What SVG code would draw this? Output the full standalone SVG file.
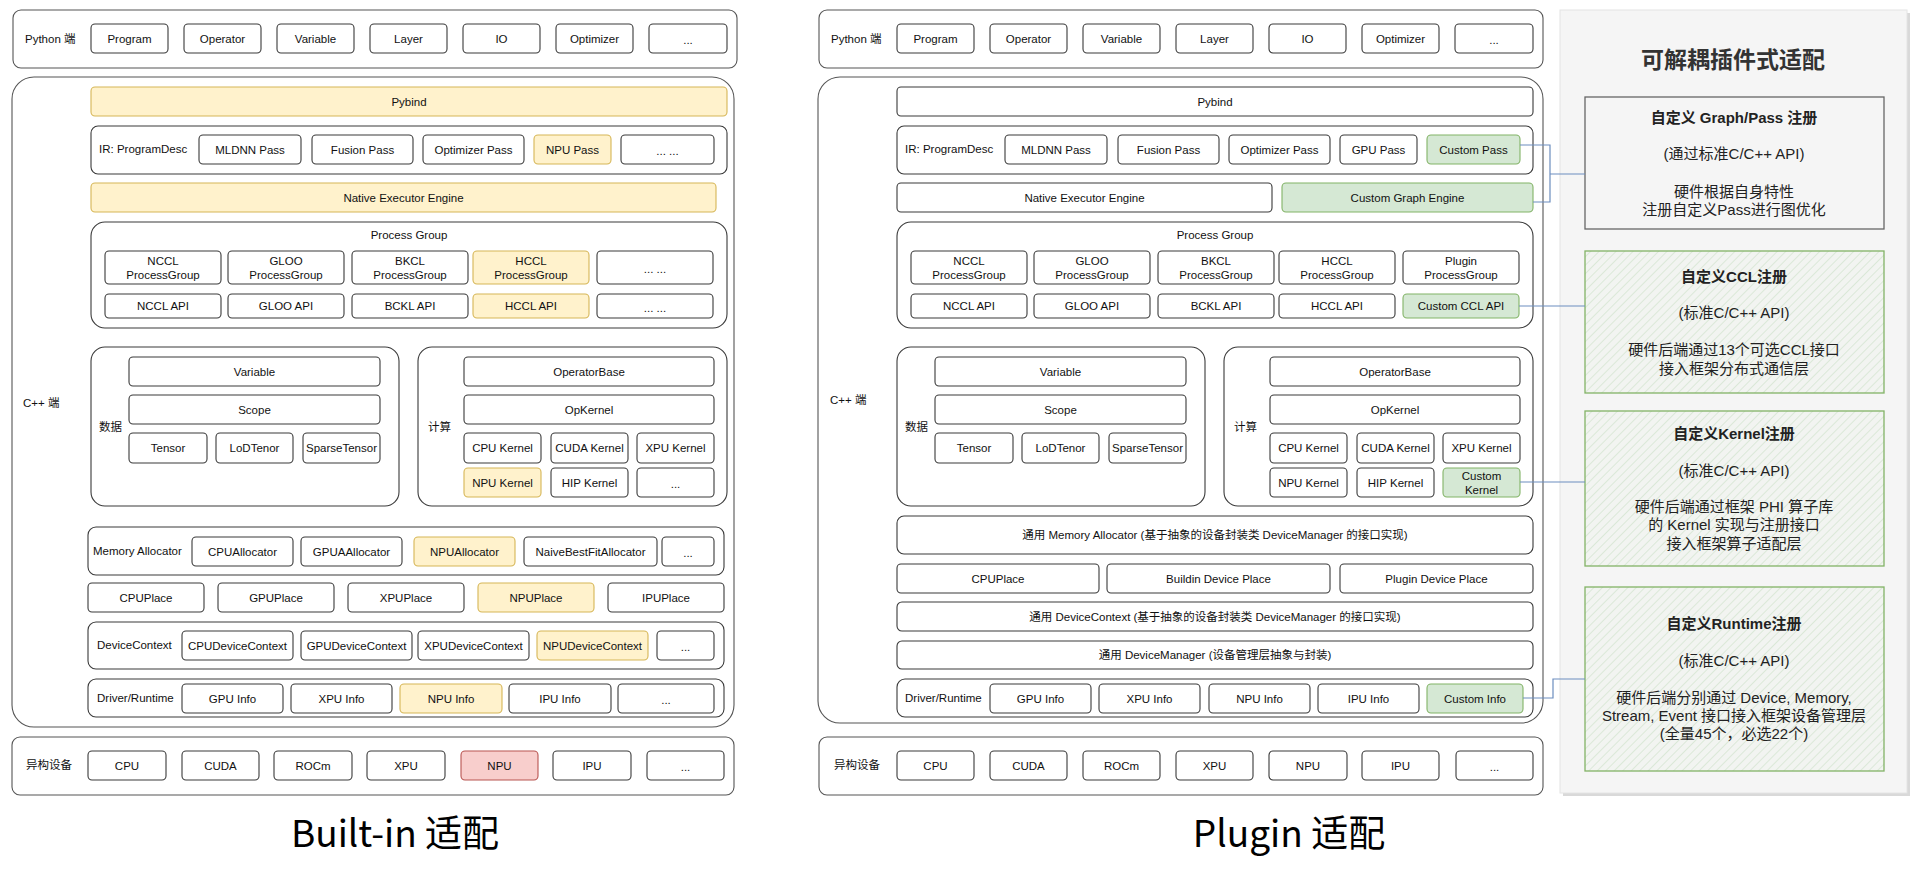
<svg xmlns="http://www.w3.org/2000/svg" width="1922" height="878" viewBox="0 0 1922 878">
<style>
.b{fill:#fff;stroke:#3a3a3a;stroke-width:1.1}
.o{fill:#fff;stroke:#555;stroke-width:1.1}
.y{fill:#fff2cc;stroke:#d6b656;stroke-width:1.1}
.g{fill:#d5e8d4;stroke:#82b366;stroke-width:1.1}
.r{fill:#f8cecc;stroke:#b85450;stroke-width:1.1}
text{font-family:"Liberation Sans","Noto Sans CJK SC",sans-serif;font-size:11.5px;fill:#111;text-anchor:middle;dominant-baseline:central}
.l{text-anchor:start}
.ttl{font-family:"Noto Sans CJK SC","Noto Sans",sans-serif;font-size:37px;fill:#000;dominant-baseline:auto}
.pt{font-size:15px;fill:#222}
.pb{font-size:15px;font-weight:bold;fill:#222}
.ph{font-family:"Noto Sans CJK SC",sans-serif;font-size:23px;font-weight:bold;fill:#333}
.c{fill:none;stroke:#6c8ebf;stroke-width:1.2}
</style>
<defs>
<pattern id="hatch" width="6" height="6" patternUnits="userSpaceOnUse" patternTransform="rotate(45)">
<rect width="6" height="6" fill="#f2f4f1"/>
<line x1="0" y1="0" x2="0" y2="6" stroke="#d2e4ce" stroke-width="1.4"/>
</pattern>
</defs>
<rect width="1922" height="878" fill="#fff"/>

<!-- ===== Left: Built-in ===== -->
<g id="L-python">
<rect class="o" x="13" y="10" width="724" height="58" rx="8"/>
<text class="l" x="25" y="39">Python 端</text>
<rect class="b" x="91" y="24" width="77" height="29" rx="4"/><text x="129.5" y="38.5">Program</text>
<rect class="b" x="184" y="24" width="77" height="29" rx="4"/><text x="222.5" y="38.5">Operator</text>
<rect class="b" x="277" y="24" width="77" height="29" rx="4"/><text x="315.5" y="38.5">Variable</text>
<rect class="b" x="370" y="24" width="77" height="29" rx="4"/><text x="408.5" y="38.5">Layer</text>
<rect class="b" x="463" y="24" width="77" height="29" rx="4"/><text x="501.5" y="38.5">IO</text>
<rect class="b" x="556" y="24" width="77" height="29" rx="4"/><text x="594.5" y="38.5">Optimizer</text>
<rect class="b" x="649" y="24" width="78" height="29" rx="4"/><text x="688" y="40">...</text>
</g>
<g id="L-cpp">
<rect class="o" x="12" y="77" width="722" height="650" rx="22"/>
<text class="l" x="23" y="403">C++ 端</text>
</g>
<g id="L-pybind">
<rect class="y" x="91" y="87" width="636" height="29" rx="4"/><text x="409" y="101.5">Pybind</text>
</g>
<g id="L-ir">
<rect class="b" x="91" y="126" width="636" height="48" rx="7"/>
<text class="l" x="99" y="149">IR: ProgramDesc</text>
<rect class="b" x="199" y="135" width="102" height="29" rx="4"/><text x="250" y="149.5">MLDNN Pass</text>
<rect class="b" x="312" y="135" width="101" height="29" rx="4"/><text x="362.5" y="149.5">Fusion Pass</text>
<rect class="b" x="423" y="135" width="101" height="29" rx="4"/><text x="473.5" y="149.5">Optimizer Pass</text>
<rect class="y" x="534" y="135" width="77" height="29" rx="4"/><text x="572.5" y="149.5">NPU Pass</text>
<rect class="b" x="621" y="135" width="93" height="29" rx="4"/><text x="667.5" y="151">... ...</text>
</g>
<g id="L-native">
<rect class="y" x="91" y="183" width="625" height="29" rx="4"/><text x="403.5" y="197.5">Native Executor Engine</text>
</g>
<g id="L-pg">
<rect class="b" x="91" y="222" width="636" height="106" rx="14"/>
<text x="409" y="235">Process Group</text>
<rect class="b" x="105" y="251" width="116" height="33" rx="4"/><text x="163" y="260.5">NCCL</text><text x="163" y="275">ProcessGroup</text>
<rect class="b" x="228" y="251" width="116" height="33" rx="4"/><text x="286" y="260.5">GLOO</text><text x="286" y="275">ProcessGroup</text>
<rect class="b" x="352" y="251" width="116" height="33" rx="4"/><text x="410" y="260.5">BKCL</text><text x="410" y="275">ProcessGroup</text>
<rect class="y" x="473" y="251" width="116" height="33" rx="4"/><text x="531" y="260.5">HCCL</text><text x="531" y="275">ProcessGroup</text>
<rect class="b" x="597" y="251" width="116" height="33" rx="4"/><text x="655" y="269">... ...</text>
<rect class="b" x="105" y="294" width="116" height="24" rx="4"/><text x="163" y="306">NCCL API</text>
<rect class="b" x="228" y="294" width="116" height="24" rx="4"/><text x="286" y="306">GLOO API</text>
<rect class="b" x="352" y="294" width="116" height="24" rx="4"/><text x="410" y="306">BCKL API</text>
<rect class="y" x="473" y="294" width="116" height="24" rx="4"/><text x="531" y="306">HCCL API</text>
<rect class="b" x="597" y="294" width="116" height="24" rx="4"/><text x="655" y="308">... ...</text>
</g>
<g id="L-data">
<rect class="b" x="91" y="347" width="308" height="159" rx="14"/>
<text class="l" x="99" y="427">数据</text>
<rect class="b" x="129" y="357" width="251" height="29" rx="4"/><text x="254.5" y="371.5">Variable</text>
<rect class="b" x="129" y="395" width="251" height="29" rx="4"/><text x="254.5" y="409.5">Scope</text>
<rect class="b" x="129" y="433" width="78" height="30" rx="4"/><text x="168" y="448">Tensor</text>
<rect class="b" x="216" y="433" width="77" height="30" rx="4"/><text x="254.5" y="448">LoDTenor</text>
<rect class="b" x="303" y="433" width="77" height="30" rx="4"/><text x="341.5" y="448">SparseTensor</text>
</g>
<g id="L-compute">
<rect class="b" x="418" y="347" width="309" height="159" rx="14"/>
<text class="l" x="428" y="427">计算</text>
<rect class="b" x="464" y="357" width="250" height="29" rx="4"/><text x="589" y="371.5">OperatorBase</text>
<rect class="b" x="464" y="395" width="250" height="29" rx="4"/><text x="589" y="409.5">OpKernel</text>
<rect class="b" x="464" y="433" width="77" height="30" rx="4"/><text x="502.5" y="448">CPU Kernel</text>
<rect class="b" x="551" y="433" width="77" height="30" rx="4"/><text x="589.5" y="448">CUDA Kernel</text>
<rect class="b" x="637" y="433" width="77" height="30" rx="4"/><text x="675.5" y="448">XPU Kernel</text>
<rect class="y" x="464" y="468" width="77" height="29" rx="4"/><text x="502.5" y="482.5">NPU Kernel</text>
<rect class="b" x="551" y="468" width="77" height="29" rx="4"/><text x="589.5" y="482.5">HIP Kernel</text>
<rect class="b" x="637" y="468" width="77" height="29" rx="4"/><text x="675.5" y="484">...</text>
</g>
<g id="L-mem">
<rect class="b" x="88" y="527" width="636" height="48" rx="8"/>
<text class="l" x="93" y="551">Memory Allocator</text>
<rect class="b" x="192" y="537" width="101" height="29" rx="4"/><text x="242.5" y="551.5">CPUAllocator</text>
<rect class="b" x="301" y="537" width="101" height="29" rx="4"/><text x="351.5" y="551.5">GPUAAllocator</text>
<rect class="y" x="414" y="537" width="101" height="29" rx="4"/><text x="464.5" y="551.5">NPUAllocator</text>
<rect class="b" x="524" y="537" width="133" height="29" rx="4"/><text x="590.5" y="551.5">NaiveBestFitAllocator</text>
<rect class="b" x="662" y="537" width="52" height="29" rx="4"/><text x="688" y="553">...</text>
</g>
<g id="L-place">
<rect class="b" x="88" y="583" width="116" height="29" rx="4"/><text x="146" y="597.5">CPUPlace</text>
<rect class="b" x="218" y="583" width="116" height="29" rx="4"/><text x="276" y="597.5">GPUPlace</text>
<rect class="b" x="348" y="583" width="116" height="29" rx="4"/><text x="406" y="597.5">XPUPlace</text>
<rect class="y" x="478" y="583" width="116" height="29" rx="4"/><text x="536" y="597.5">NPUPlace</text>
<rect class="b" x="608" y="583" width="116" height="29" rx="4"/><text x="666" y="597.5">IPUPlace</text>
</g>
<g id="L-devctx">
<rect class="b" x="88" y="622" width="636" height="47" rx="8"/>
<text class="l" x="97" y="645">DeviceContext</text>
<rect class="b" x="182" y="631" width="111" height="29" rx="4"/><text x="237.5" y="645.5">CPUDeviceContext</text>
<rect class="b" x="301" y="631" width="111" height="29" rx="4"/><text x="356.5" y="645.5">GPUDeviceContext</text>
<rect class="b" x="418" y="631" width="111" height="29" rx="4"/><text x="473.5" y="645.5">XPUDeviceContext</text>
<rect class="y" x="537" y="631" width="111" height="29" rx="4"/><text x="592.5" y="645.5">NPUDeviceContext</text>
<rect class="b" x="657" y="631" width="57" height="29" rx="4"/><text x="685.5" y="647">...</text>
</g>
<g id="L-driver">
<rect class="b" x="88" y="679" width="636" height="38" rx="8"/>
<text class="l" x="97" y="698">Driver/Runtime</text>
<rect class="b" x="182" y="684" width="101" height="29" rx="4"/><text x="232.5" y="698.5">GPU Info</text>
<rect class="b" x="291" y="684" width="101" height="29" rx="4"/><text x="341.5" y="698.5">XPU Info</text>
<rect class="y" x="400" y="684" width="102" height="29" rx="4"/><text x="451" y="698.5">NPU Info</text>
<rect class="b" x="509" y="684" width="102" height="29" rx="4"/><text x="560" y="698.5">IPU Info</text>
<rect class="b" x="618" y="684" width="96" height="29" rx="4"/><text x="666" y="700">...</text>
</g>
<g id="L-devices">
<rect class="o" x="12" y="737" width="722" height="58" rx="8"/>
<text class="l" x="26" y="765">异构设备</text>
<rect class="b" x="88" y="751" width="78" height="29" rx="4"/><text x="127" y="765.5">CPU</text>
<rect class="b" x="182" y="751" width="77" height="29" rx="4"/><text x="220.5" y="765.5">CUDA</text>
<rect class="b" x="274" y="751" width="78" height="29" rx="4"/><text x="313" y="765.5">ROCm</text>
<rect class="b" x="367" y="751" width="78" height="29" rx="4"/><text x="406" y="765.5">XPU</text>
<rect class="r" x="461" y="751" width="77" height="29" rx="4"/><text x="499.5" y="765.5">NPU</text>
<rect class="b" x="553" y="751" width="78" height="29" rx="4"/><text x="592" y="765.5">IPU</text>
<rect class="b" x="647" y="751" width="77" height="29" rx="4"/><text x="685.5" y="767">...</text>
</g>
<text class="ttl" x="395" y="847">Built-in 适配</text>

<!-- ===== Middle: Plugin ===== -->
<g id="M-python">
<rect class="o" x="819" y="10" width="724" height="58" rx="8"/>
<text class="l" x="831" y="39">Python 端</text>
<rect class="b" x="897" y="24" width="77" height="29" rx="4"/><text x="935.5" y="38.5">Program</text>
<rect class="b" x="990" y="24" width="77" height="29" rx="4"/><text x="1028.5" y="38.5">Operator</text>
<rect class="b" x="1083" y="24" width="77" height="29" rx="4"/><text x="1121.5" y="38.5">Variable</text>
<rect class="b" x="1176" y="24" width="77" height="29" rx="4"/><text x="1214.5" y="38.5">Layer</text>
<rect class="b" x="1269" y="24" width="77" height="29" rx="4"/><text x="1307.5" y="38.5">IO</text>
<rect class="b" x="1362" y="24" width="77" height="29" rx="4"/><text x="1400.5" y="38.5">Optimizer</text>
<rect class="b" x="1455" y="24" width="78" height="29" rx="4"/><text x="1494" y="40">...</text>
</g>
<g id="M-cpp">
<rect class="o" x="818" y="77" width="725" height="646" rx="22"/>
<text class="l" x="830" y="400">C++ 端</text>
</g>
<g id="M-pybind">
<rect class="b" x="897" y="87" width="636" height="29" rx="4"/><text x="1215" y="101.5">Pybind</text>
</g>
<g id="M-ir">
<rect class="b" x="897" y="126" width="636" height="48" rx="7"/>
<text class="l" x="905" y="149">IR: ProgramDesc</text>
<rect class="b" x="1005" y="135" width="102" height="29" rx="4"/><text x="1056" y="149.5">MLDNN Pass</text>
<rect class="b" x="1118" y="135" width="101" height="29" rx="4"/><text x="1168.5" y="149.5">Fusion Pass</text>
<rect class="b" x="1229" y="135" width="101" height="29" rx="4"/><text x="1279.5" y="149.5">Optimizer Pass</text>
<rect class="b" x="1340" y="135" width="77" height="29" rx="4"/><text x="1378.5" y="149.5">GPU Pass</text>
<rect class="g" x="1427" y="135" width="93" height="29" rx="4"/><text x="1473.5" y="149.5">Custom Pass</text>
</g>
<g id="M-engine">
<rect class="b" x="897" y="183" width="375" height="29" rx="4"/><text x="1084.5" y="197.5">Native Executor Engine</text>
<rect class="g" x="1282" y="183" width="251" height="29" rx="4"/><text x="1407.5" y="197.5">Custom Graph Engine</text>
</g>
<g id="M-pg">
<rect class="b" x="897" y="222" width="636" height="106" rx="14"/>
<text x="1215" y="235">Process Group</text>
<rect class="b" x="911" y="251" width="116" height="33" rx="4"/><text x="969" y="260.5">NCCL</text><text x="969" y="275">ProcessGroup</text>
<rect class="b" x="1034" y="251" width="116" height="33" rx="4"/><text x="1092" y="260.5">GLOO</text><text x="1092" y="275">ProcessGroup</text>
<rect class="b" x="1158" y="251" width="116" height="33" rx="4"/><text x="1216" y="260.5">BKCL</text><text x="1216" y="275">ProcessGroup</text>
<rect class="b" x="1279" y="251" width="116" height="33" rx="4"/><text x="1337" y="260.5">HCCL</text><text x="1337" y="275">ProcessGroup</text>
<rect class="b" x="1403" y="251" width="116" height="33" rx="4"/><text x="1461" y="260.5">Plugin</text><text x="1461" y="275">ProcessGroup</text>
<rect class="b" x="911" y="294" width="116" height="24" rx="4"/><text x="969" y="306">NCCL API</text>
<rect class="b" x="1034" y="294" width="116" height="24" rx="4"/><text x="1092" y="306">GLOO API</text>
<rect class="b" x="1158" y="294" width="116" height="24" rx="4"/><text x="1216" y="306">BCKL API</text>
<rect class="b" x="1279" y="294" width="116" height="24" rx="4"/><text x="1337" y="306">HCCL API</text>
<rect class="g" x="1403" y="294" width="116" height="24" rx="4"/><text x="1461" y="306">Custom CCL API</text>
</g>
<g id="M-data">
<rect class="b" x="897" y="347" width="308" height="159" rx="14"/>
<text class="l" x="905" y="427">数据</text>
<rect class="b" x="935" y="357" width="251" height="29" rx="4"/><text x="1060.5" y="371.5">Variable</text>
<rect class="b" x="935" y="395" width="251" height="29" rx="4"/><text x="1060.5" y="409.5">Scope</text>
<rect class="b" x="935" y="433" width="78" height="30" rx="4"/><text x="974" y="448">Tensor</text>
<rect class="b" x="1022" y="433" width="77" height="30" rx="4"/><text x="1060.5" y="448">LoDTenor</text>
<rect class="b" x="1109" y="433" width="77" height="30" rx="4"/><text x="1147.5" y="448">SparseTensor</text>
</g>
<g id="M-compute">
<rect class="b" x="1224" y="347" width="309" height="159" rx="14"/>
<text class="l" x="1234" y="427">计算</text>
<rect class="b" x="1270" y="357" width="250" height="29" rx="4"/><text x="1395" y="371.5">OperatorBase</text>
<rect class="b" x="1270" y="395" width="250" height="29" rx="4"/><text x="1395" y="409.5">OpKernel</text>
<rect class="b" x="1270" y="433" width="77" height="30" rx="4"/><text x="1308.5" y="448">CPU Kernel</text>
<rect class="b" x="1357" y="433" width="77" height="30" rx="4"/><text x="1395.5" y="448">CUDA Kernel</text>
<rect class="b" x="1443" y="433" width="77" height="30" rx="4"/><text x="1481.5" y="448">XPU Kernel</text>
<rect class="b" x="1270" y="468" width="77" height="29" rx="4"/><text x="1308.5" y="482.5">NPU Kernel</text>
<rect class="b" x="1357" y="468" width="77" height="29" rx="4"/><text x="1395.5" y="482.5">HIP Kernel</text>
<rect class="g" x="1443" y="468" width="77" height="29" rx="4"/><text x="1481.5" y="475.5">Custom</text><text x="1481.5" y="489.5">Kernel</text>
</g>
<g id="M-mem">
<rect class="b" x="897" y="516" width="636" height="38" rx="7"/><text x="1215" y="534.5">通用 Memory Allocator (基于抽象的设备封装类 DeviceManager 的接口实现)</text>
</g>
<g id="M-place">
<rect class="b" x="897" y="564" width="202" height="29" rx="4"/><text x="998" y="578.5">CPUPlace</text>
<rect class="b" x="1107" y="564" width="223" height="29" rx="4"/><text x="1218.5" y="578.5">Buildin Device Place</text>
<rect class="b" x="1340" y="564" width="193" height="29" rx="4"/><text x="1436.5" y="578.5">Plugin Device Place</text>
</g>
<g id="M-devctx">
<rect class="b" x="897" y="602" width="636" height="29" rx="5"/><text x="1215" y="616.5">通用 DeviceContext (基于抽象的设备封装类 DeviceManager 的接口实现)</text>
</g>
<g id="M-devmgr">
<rect class="b" x="897" y="641" width="636" height="28" rx="5"/><text x="1215" y="655">通用 DeviceManager (设备管理层抽象与封装)</text>
</g>
<g id="M-driver">
<rect class="b" x="897" y="679" width="636" height="38" rx="8"/>
<text class="l" x="905" y="698">Driver/Runtime</text>
<rect class="b" x="990" y="684" width="101" height="29" rx="4"/><text x="1040.5" y="698.5">GPU Info</text>
<rect class="b" x="1099" y="684" width="101" height="29" rx="4"/><text x="1149.5" y="698.5">XPU Info</text>
<rect class="b" x="1209" y="684" width="101" height="29" rx="4"/><text x="1259.5" y="698.5">NPU Info</text>
<rect class="b" x="1318" y="684" width="101" height="29" rx="4"/><text x="1368.5" y="698.5">IPU Info</text>
<rect class="g" x="1427" y="684" width="96" height="29" rx="4"/><text x="1475" y="698.5">Custom Info</text>
</g>
<g id="M-devices">
<rect class="o" x="819" y="737" width="724" height="58" rx="8"/>
<text class="l" x="834" y="765">异构设备</text>
<rect class="b" x="897" y="751" width="77" height="29" rx="4"/><text x="935.5" y="765.5">CPU</text>
<rect class="b" x="990" y="751" width="77" height="29" rx="4"/><text x="1028.5" y="765.5">CUDA</text>
<rect class="b" x="1083" y="751" width="77" height="29" rx="4"/><text x="1121.5" y="765.5">ROCm</text>
<rect class="b" x="1176" y="751" width="77" height="29" rx="4"/><text x="1214.5" y="765.5">XPU</text>
<rect class="b" x="1269" y="751" width="78" height="29" rx="4"/><text x="1308" y="765.5">NPU</text>
<rect class="b" x="1362" y="751" width="77" height="29" rx="4"/><text x="1400.5" y="765.5">IPU</text>
<rect class="b" x="1456" y="751" width="77" height="29" rx="4"/><text x="1494.5" y="767">...</text>
</g>
<text class="ttl" x="1289" y="847">Plugin 适配</text>

<!-- ===== Right panel ===== -->
<g id="panel">
<rect x="1563" y="13" width="347" height="783" fill="#d9d9d9"/>
<rect x="1560" y="10" width="347" height="783" fill="#f5f5f5" stroke="#e4e4e4" stroke-width="1"/>
<text class="ph" x="1733" y="58">可解耦插件式适配</text>
</g>
<g id="reg-pass">
<rect x="1585" y="97" width="299" height="132" fill="#f5f5f5" stroke="#666" stroke-width="1.3"/>
<text class="pb" x="1734" y="117">自定义 Graph/Pass 注册</text>
<text class="pt" x="1734" y="153">(通过标准C/C++ API)</text>
<text class="pt" x="1734" y="191">硬件根据自身特性</text>
<text class="pt" x="1734" y="209">注册自定义Pass进行图优化</text>
</g>
<g id="reg-ccl">
<rect x="1585" y="251" width="299" height="142" fill="url(#hatch)" stroke="#82b366" stroke-width="1.3"/>
<text class="pb" x="1734" y="276">自定义CCL注册</text>
<text class="pt" x="1734" y="312">(标准C/C++ API)</text>
<text class="pt" x="1734" y="349">硬件后端通过13个可选CCL接口</text>
<text class="pt" x="1734" y="368">接入框架分布式通信层</text>
</g>
<g id="reg-kernel">
<rect x="1585" y="411" width="299" height="155" fill="url(#hatch)" stroke="#82b366" stroke-width="1.3"/>
<text class="pb" x="1734" y="433">自定义Kernel注册</text>
<text class="pt" x="1734" y="470">(标准C/C++ API)</text>
<text class="pt" x="1734" y="506">硬件后端通过框架 PHI 算子库</text>
<text class="pt" x="1734" y="524">的 Kernel 实现与注册接口</text>
<text class="pt" x="1734" y="543">接入框架算子适配层</text>
</g>
<g id="reg-runtime">
<rect x="1585" y="587" width="299" height="184" fill="url(#hatch)" stroke="#82b366" stroke-width="1.3"/>
<text class="pb" x="1734" y="623">自定义Runtime注册</text>
<text class="pt" x="1734" y="660">(标准C/C++ API)</text>
<text class="pt" x="1734" y="697">硬件后端分别通过 Device, Memory,</text>
<text class="pt" x="1734" y="715">Stream, Event 接口接入框架设备管理层</text>
<text class="pt" x="1734" y="733">(全量45个，必选22个)</text>
</g>

<g id="connectors">
<path class="c" d="M1520,145 H1550 V202 H1533"/>
<path class="c" d="M1550,174 H1585"/>
<path class="c" d="M1519,306 H1585"/>
<path class="c" d="M1520,482 H1585"/>
<path class="c" d="M1523,698 H1553 V679 H1585"/>
</g>
</svg>
